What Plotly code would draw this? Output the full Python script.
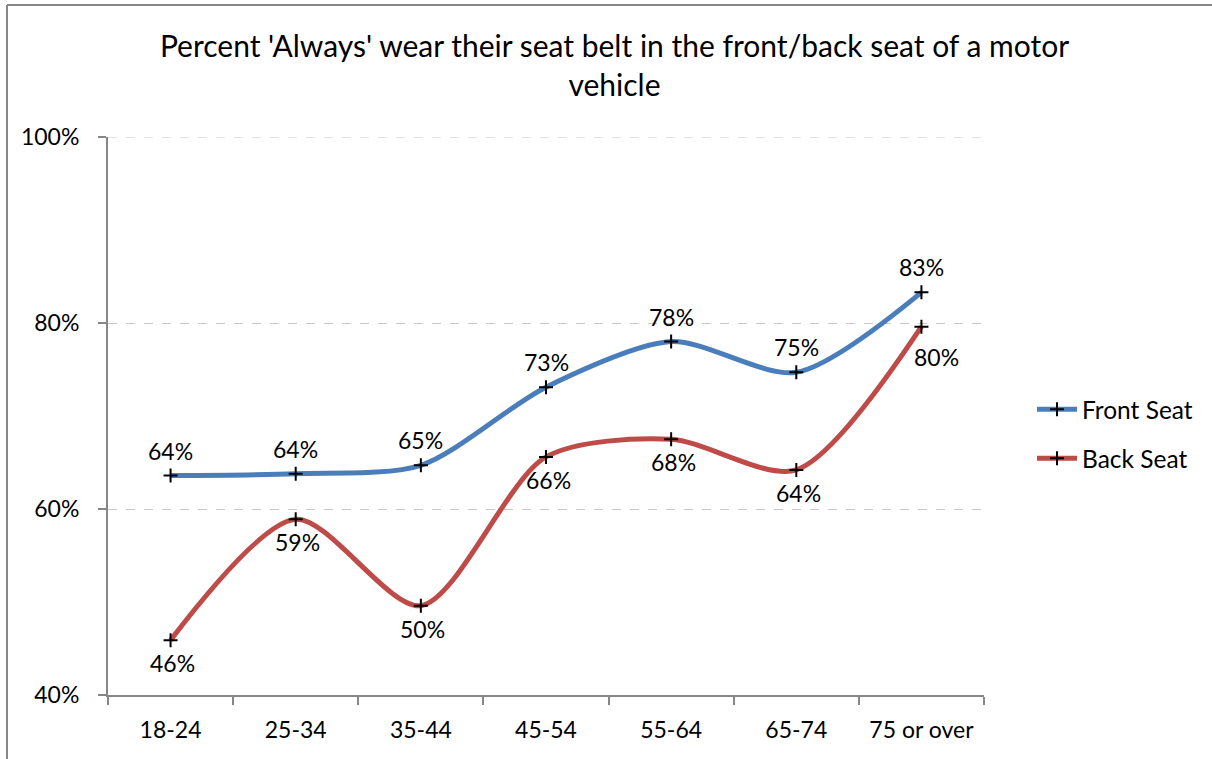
import plotly.graph_objects as go

categories = ["18-24", "25-34", "35-44", "45-54", "55-64", "65-74", "75 or over"]
front_seat = [63.6, 63.8, 64.7, 73.1, 78.0, 74.7, 83.3]
back_seat = [45.9, 58.9, 49.6, 65.6, 67.5, 64.2, 79.6]
front_labels = ["64%", "64%", "65%", "73%", "78%", "75%", "83%"]
back_labels = ["46%", "59%", "50%", "66%", "68%", "64%", "80%"]
y_ticks = [40, 60, 80, 100]
y_tick_labels = ["40%", "60%", "80%", "100%"]

FONT = "Lato"
AXIS_GREY = "#878787"
LABEL_SIZE = 23

fig = go.Figure()
fig.add_trace(go.Scatter(
    x=categories, y=front_seat, name="Front Seat", legendgroup="front",
    mode="lines+markers",
    line=dict(color="#4A7EBB", width=5, shape="spline", smoothing=0.8),
    marker=dict(symbol="cross-thin", size=10, color="#000000",
                line=dict(color="#000000", width=2)),
))
fig.add_trace(go.Scatter(
    x=categories, y=back_seat, name="Back Seat", legendgroup="back",
    mode="lines+markers",
    line=dict(color="#BE4B48", width=5, shape="spline", smoothing=0.8),
    marker=dict(symbol="cross-thin", size=10, color="#000000",
                line=dict(color="#000000", width=2)),
))

# data labels: front above the points, back below
for cat, val, lab in zip(categories, front_seat, front_labels):
    fig.add_annotation(x=cat, y=val, text=lab, showarrow=False,
                       yshift=25, font=dict(family=FONT, size=LABEL_SIZE, color="#000000"))
for i, (cat, val, lab) in enumerate(zip(categories, back_seat, back_labels)):
    fig.add_annotation(x=cat, y=val, text=lab, showarrow=False,
                       yshift=-23 if i < len(categories) - 1 else -30,
                       xshift=2 if i < len(categories) - 1 else 15,
                       font=dict(family=FONT, size=LABEL_SIZE, color="#000000"))

fig.update_layout(
    width=1212, height=759,
    margin=dict(l=108, r=228, t=137, b=64),
    paper_bgcolor="white", plot_bgcolor="white",
    font=dict(family=FONT, size=23, color="#000000"),
    title=dict(
        text="Percent 'Always' wear their seat belt in the front/back seat of a motor<br>vehicle",
        x=0.507, xanchor="center", y=0.925, yanchor="middle",
        font=dict(family=FONT, size=30, color="#000000"),
    ),
    showlegend=True,
    legend=dict(
        x=1.0548, xanchor="left", y=0.468, yanchor="middle",
        font=dict(family=FONT, size=24.5, color="#000000"),
        bgcolor="rgba(0,0,0,0)", traceorder="grouped", tracegroupgap=14,
        itemwidth=40,
    ),
    xaxis=dict(
        type="category", tickson="boundaries", ticks="outside", ticklen=8,
        tickcolor=AXIS_GREY, tickwidth=2,
        showline=True, linecolor=AXIS_GREY, linewidth=2,
        showgrid=False, tickfont=dict(family=FONT, size=23),
        ticklabelstandoff=13,
        range=[-0.5, 6.5],
    ),
    yaxis=dict(
        range=[40, 100], tickvals=y_ticks, ticktext=y_tick_labels,
        ticks="outside", ticklen=8, tickcolor=AXIS_GREY, tickwidth=2,
        showline=True, linecolor=AXIS_GREY, linewidth=2,
        showgrid=True, gridcolor="#C8C8C8", griddash="dash", gridwidth=1,
        zeroline=False, tickfont=dict(family=FONT, size=23),
        ticklabelstandoff=14,
    ),
)

# dashed gridline at the top of the plot (100%)
fig.add_shape(type="line", xref="paper", yref="y", x0=0, x1=1, y0=100, y1=100,
              line=dict(color="#C8C8C8", width=1, dash="dash"), layer="below")

# outer chart frame: only left and top edges are visible in the reference
fig.add_shape(type="line", xref="paper", yref="paper",
              x0=-0.1153, x1=-0.1153, y0=-0.2, y1=1.2366,
              line=dict(color=AXIS_GREY, width=2), layer="below")
fig.add_shape(type="line", xref="paper", yref="paper",
              x0=-0.1153, x1=1.3, y0=1.2366, y1=1.2366,
              line=dict(color=AXIS_GREY, width=2), layer="below")

fig.write_html("out.html", config={"displayModeBar": False},
               post_script="document.body.style.margin='0px';")
